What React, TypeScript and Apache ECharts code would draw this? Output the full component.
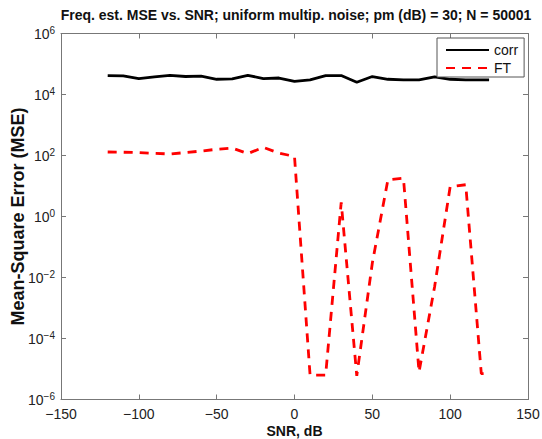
import React, { useEffect, useRef } from "react";
import * as echarts from "echarts";

const corrSnr = [-120, -110, -100, -90, -80, -70, -60, -50, -40, -30, -20, -10, 0, 10, 20, 30, 40, 50, 60, 70, 80, 90, 100, 110, 120, 125];
const corrMse = [41700, 40700, 33100, 38000, 42700, 38900, 39800, 31600, 32400, 42700, 33100, 34700, 26900, 30200, 41700, 41700, 25100, 38900, 31600, 30200, 30200, 38000, 31600, 30200, 30200, 30200];

const ftSnr = [-120, -110, -100, -90, -80, -70, -60, -50, -40, -30, -20, -10, 0, 10, 20, 30, 40, 50, 60, 70, 80, 90, 100, 110, 120, 125];
const ftMse = [130, 128, 125, 118, 112, 125, 140, 160, 175, 115, 185, 120, 93, 6.3e-6, 6.3e-6, 2.9, 6.0e-6, 0.03, 16, 18, 8e-6, 0.005, 9.5, 11, 7e-6, 7e-6];

const xTicks = [-150, -100, -50, 0, 50, 100, 150];
// y axis is logarithmic: ticks at 10^e for these exponents
const yExponents = [-6, -4, -2, 0, 2, 4, 6];

const seriesNames = ["corr", "FT"];
const titleText = "Freq. est. MSE vs. SNR; uniform multip. noise; pm (dB) = 30; N = 50001";
const xName = "SNR, dB";
const yName = "Mean-Square Error (MSE)";

const FONT = "'Liberation Sans', Arial, Helvetica, sans-serif";

export default function App() {
  const ref = useRef<HTMLDivElement>(null);
  useEffect(() => {
    if (!ref.current) return;
    const chart = echarts.init(ref.current, undefined, { renderer: "svg" });
    const axisColor = "#777";
    const labelColor = "#222";
    const xMin = xTicks[0];
    const xMax = xTicks[xTicks.length - 1];
    const yMin = yExponents[0];
    const yMax = yExponents[yExponents.length - 1];
    const log10 = (v: number) => Math.log10(v);
    const xCommon = {
      type: "value" as const,
      min: xMin,
      max: xMax,
      interval: xTicks[1] - xTicks[0],
      splitLine: { show: false },
      axisLine: { show: true, onZero: false, lineStyle: { color: axisColor, width: 1 } },
      axisTick: { show: true, inside: true, length: 5, lineStyle: { color: axisColor } },
    };
    const yCommon = {
      type: "value" as const,
      min: yMin,
      max: yMax,
      interval: yExponents[1] - yExponents[0],
      splitLine: { show: false },
      axisLine: { show: true, onZero: false, lineStyle: { color: axisColor, width: 1 } },
      axisTick: { show: true, inside: true, length: 5, lineStyle: { color: axisColor } },
    };
    const transparent = "rgba(0,0,0,0)";
    chart.setOption({
      animation: false,
      backgroundColor: "#fff",
      textStyle: { fontFamily: FONT },
      grid: {
        left: 61,
        right: 14,
        top: 33.5,
        bottom: 39.5,
        containLabel: false,
        outerBoundsMode: "none",
      },
      graphic: [
        {
          type: "text",
          x: 296,
          y: 15,
          style: {
            text: titleText,
            textAlign: "center",
            textVerticalAlign: "middle",
            font: `bold 14px ${FONT}`,
            fill: "#111",
          },
        },
      ],
      legend: {
        data: seriesNames,
        orient: "vertical",
        left: 437,
        top: 38,
        padding: [5, 6, 2, 8],
        itemWidth: 43,
        itemHeight: 14,
        itemGap: 4,
        backgroundColor: "#fff",
        borderColor: "#555",
        borderWidth: 1,
        itemStyle: { color: transparent, borderColor: transparent, borderWidth: 0 },
        textStyle: { fontSize: 14, color: "#111", fontFamily: FONT },
      },
      xAxis: [
        {
          ...xCommon,
          position: "bottom",
          name: xName,
          nameLocation: "middle",
          nameGap: 24,
          nameMoveOverlap: false,
          nameTextStyle: { fontSize: 14, fontWeight: "bold", color: "#111", fontFamily: FONT },
          axisLabel: {
            show: true,
            margin: 7,
            fontSize: 14,
            color: labelColor,
            fontFamily: FONT,
            formatter: (v: number) => String(v).replace("-", "\u2212"),
          },
        },
        {
          ...xCommon,
          position: "top",
          axisLabel: { show: false },
        },
      ],
      yAxis: [
        {
          ...yCommon,
          position: "left",
          name: yName,
          nameLocation: "middle",
          nameGap: 34,
          nameMoveOverlap: false,
          nameTextStyle: { fontSize: 18, fontWeight: "bold", color: "#111", fontFamily: FONT },
          axisLabel: {
            show: true,
            margin: 6,
            formatter: (v: number) => `{b|10}{s|${String(v).replace("-", "\u2212")}}`,
            rich: {
              b: { fontSize: 14, color: labelColor, fontFamily: FONT, lineHeight: 16, padding: [5, 0, 5, 0] },
              s: { fontSize: 10, color: labelColor, fontFamily: FONT, lineHeight: 11, verticalAlign: "top" },
            },
          },
        },
        {
          ...yCommon,
          position: "right",
          axisLabel: { show: false },
        },
      ],
      series: [
        {
          name: seriesNames[0],
          type: "line",
          xAxisIndex: 0,
          yAxisIndex: 0,
          symbol: "none",
          data: corrSnr.map((x, i) => [x, log10(corrMse[i])]),
          lineStyle: { color: "#000", width: 2.8 },
          itemStyle: { color: "#000" },
        },
        {
          name: seriesNames[1],
          type: "line",
          xAxisIndex: 0,
          yAxisIndex: 0,
          symbol: "none",
          data: ftSnr.map((x, i) => [x, log10(ftMse[i])]),
          lineStyle: { color: "#ff0000", width: 2.8, type: [9, 7] },
          itemStyle: { color: "#ff0000" },
        },
      ],
    });
    return () => chart.dispose();
  }, []);
  return (
    <div
      ref={ref}
      style={{ position: "fixed", left: 0, top: 0, width: 542, height: 439, background: "#fff" }}
    />
  );
}
